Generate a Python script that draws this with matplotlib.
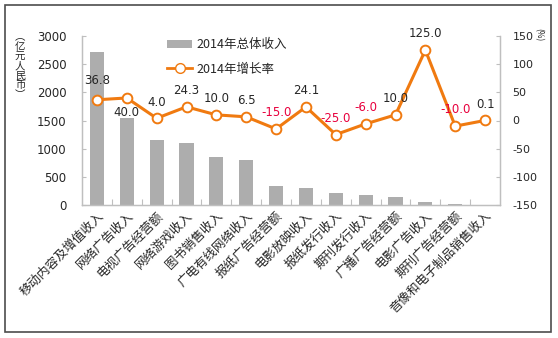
import matplotlib
matplotlib.use("Agg")
import matplotlib.pyplot as plt
from matplotlib.patches import Rectangle, Patch
from matplotlib.lines import Line2D

plt.rcParams['font.family'] = ['Noto Sans CJK SC', 'DejaVu Sans']

categories = ["移动内容及增值收入", "网络广告收入", "电视广告经营额", "网络游戏收入",
              "图书销售收入", "广电有线网络收入", "报纸广告经营额", "电影放映收入",
              "报纸发行收入", "期刊发行收入", "广播广告经营额", "电影广告收入",
              "期刊广告经营额", "音像和电子制品销售收入"]
revenue = [2720, 1540, 1160, 1100, 845, 800, 345, 300, 215, 170, 140, 45, 20, 8]
growth = [36.8, 40.0, 4.0, 24.3, 10.0, 6.5, -15.0, 24.1, -25.0, -6.0, 10.0, 125.0, -10.0, 0.1]
left_ticks = [0, 500, 1000, 1500, 2000, 2500, 3000]
right_ticks = [-150, -100, -50, 0, 50, 100, 150]

W, H = 558, 338
fig = plt.figure(figsize=(W / 100, H / 100), dpi=100)
ax = fig.add_axes([82 / W, 1 - 205 / H, (500 - 82) / W, (205 - 36) / H])
ax2 = ax.twinx()

axis_gray = "#BFBFBF"
text_col = "#262626"
orange = "#F07A10"
bar_gray = "#ADADAD"
num_font = ['DejaVu Sans']

x = list(range(len(categories)))
ax.bar(x, revenue, width=0.47, color=bar_gray, zorder=2)
ax.set_xlim(-0.5, len(categories) - 0.5)
ax.set_ylim(0, 3000)
ax.set_yticks(left_ticks)
ax.set_yticklabels([str(t) for t in left_ticks], fontsize=8.5, color=text_col,
                   family=num_font)

ax2.plot(x, growth, color=orange, lw=2.2, marker="o", ms=7,
         markerfacecolor="white", markeredgecolor=orange, markeredgewidth=1.4, zorder=5)
ax2.set_ylim(-150, 150)
ax2.set_yticks(right_ticks)
ax2.set_yticklabels([str(t) for t in right_ticks], fontsize=8, color=text_col,
                    family=num_font)

# value labels for the growth line; negatives in red
for i, g in enumerate(growth):
    col = "#E8003D" if g < 0 else text_col
    if i == 1:
        off, va = -6, "top"
    elif i == 0:
        off, va = 9, "bottom"
    else:
        off, va = 7, "bottom"
    ax2.annotate(f"{g:.1f}", (i, g), xytext=(0, off), textcoords="offset points",
                 ha="center", va=va, fontsize=8.5, color=col, zorder=6,
                 family=num_font)

ax.set_xticks([i + 0.5 for i in x[:-1]])
ax.set_xticklabels([])
ax.set_xticks(x, minor=True)
ax.set_xticklabels(categories, minor=True, rotation=45, ha="right",
                   rotation_mode="anchor", fontsize=9, color=text_col)
ax.tick_params(axis="x", which="minor", length=0, pad=3)
ax.tick_params(axis="x", which="major", direction="in", length=4, color=axis_gray)
ax.tick_params(axis="y", direction="in", length=3, color=axis_gray, pad=11)
ax2.tick_params(axis="y", direction="in", length=3, color=axis_gray, pad=9)

for a in (ax, ax2):
    a.spines["top"].set_visible(False)
    for s in ("left", "right", "bottom"):
        a.spines[s].set_color(axis_gray)
        a.spines[s].set_linewidth(0.9)

fig.text(20 / W, 1 - 66 / H, "︵\n亿\n元\n人\n民\n币\n︶", ha="center", va="center",
         fontsize=7.5, color=text_col, linespacing=0.95)
fig.text(539 / W, 1 - 35 / H, "(%)", rotation=-90, ha="center", va="center",
         fontsize=6, color=text_col)

handles = [Patch(facecolor=bar_gray, edgecolor="none"),
           Line2D([0], [0], color=orange, lw=2, marker="o", ms=7,
                  markerfacecolor="white", markeredgecolor=orange)]
fig.legend(handles, ["2014年总体收入", "2014年增长率"], loc="upper left",
           bbox_to_anchor=(156 / W, 1 - 27 / H), frameon=False, fontsize=9,
           handlelength=2.0, handletextpad=0.3, labelspacing=0.9,
           labelcolor=text_col)

fig.patches.append(Rectangle((5 / W, 1 - 332 / H), (551 - 5) / W, (332 - 5) / H,
                             transform=fig.transFigure, fill=False,
                             edgecolor="#4D4D4D", lw=1.2))

fig.savefig("out.png", dpi=100, facecolor="white")
